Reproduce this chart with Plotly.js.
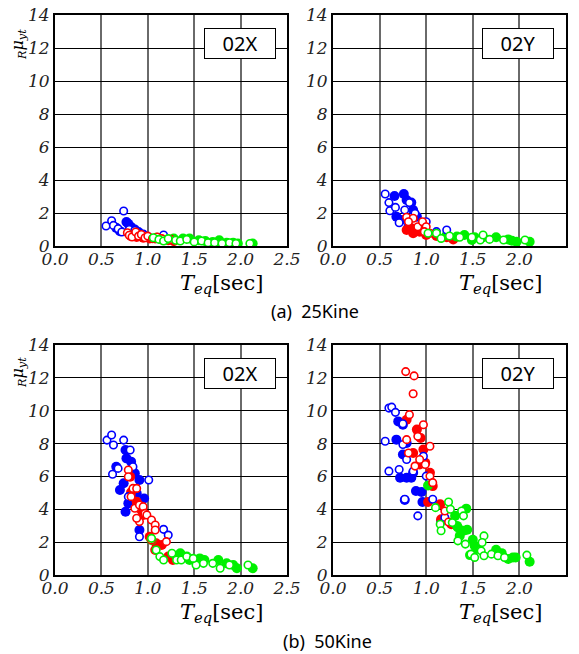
<!DOCTYPE html>
<html>
<head>
<meta charset="utf-8">
<script src="https://cdn.plot.ly/plotly-3.0.1.min.js"></script>
<style>html,body{margin:0;padding:0;background:#fff;}</style>
</head>
<body>
<div id="chart" style="width:579px;height:654px"></div>
<script>
const xTickVals = [0.0, 0.5, 1.0, 1.5, 2.0, 2.5];
const xTickText = ["0.0", "0.5", "1.0", "1.5", "2.0", "2.5"];
const yTickVals = [0, 2, 4, 6, 8, 10, 12, 14];
const yTickText = ["0", "2", "4", "6", "8", "10", "12", "14"];
const panelLabels = ["02X", "02Y", "02X", "02Y"];
const captions = ["(a)  25Kine", "(b)  50Kine"];

const aX_blueOpen_x = [0.55,0.61,0.63,0.68,0.74,0.72,0.80,0.86,0.95,1.17];
const aX_blueOpen_y = [1.21,1.53,1.25,1.05,2.12,0.85,1.00,0.95,0.70,0.67];
const aX_blueFill_x = [0.66,0.70,0.77,0.79,0.82,0.86,0.90,0.95,1.00];
const aX_blueFill_y = [1.10,0.90,1.45,1.35,1.15,1.00,0.85,0.70,0.55];
const aX_redOpen_x = [0.78,0.80,0.83,0.87,0.90,0.93,0.97,1.00,1.05,1.10,1.15,1.25];
const aX_redOpen_y = [0.80,0.65,0.55,0.85,0.60,0.70,0.50,0.60,0.45,0.55,0.45,0.40];
const aX_redFill_x = [0.82,0.88,0.95,1.02,1.08,1.15,1.22,1.28];
const aX_redFill_y = [0.60,0.55,0.50,0.45,0.45,0.40,0.35,0.30];
const aX_greenOpen_x = [1.06,1.12,1.17,1.22,1.30,1.35,1.42,1.50,1.58,1.65,1.72,1.80,1.88,1.95,2.10];
const aX_greenOpen_y = [0.50,0.40,0.30,0.45,0.35,0.30,0.40,0.25,0.30,0.20,0.20,0.15,0.20,0.15,0.15];
const aX_greenFill_x = [1.10,1.20,1.28,1.38,1.45,1.55,1.62,1.70,1.77,1.85,1.92,1.97,2.13];
const aX_greenFill_y = [0.50,0.40,0.45,0.45,0.45,0.35,0.30,0.25,0.35,0.20,0.20,0.15,0.15];

const aY_blueOpen_x = [0.56,0.60,0.61,0.67,0.71,0.77,0.82,0.88,1.00,1.22,1.11];
const aY_blueOpen_y = [3.15,2.63,2.14,2.34,1.41,2.18,2.63,1.98,1.47,0.97,0.87];
const aY_blueFill_x = [0.66,0.76,0.79,0.84,0.68,0.73,0.86,0.90,0.93,0.81];
const aY_blueFill_y = [3.03,3.15,2.79,2.63,1.78,1.58,2.18,1.78,0.97,1.17];
const aY_redOpen_x = [0.79,0.86,0.91,0.96,1.00,1.04,0.98,0.81];
const aY_redOpen_y = [1.74,1.68,1.17,1.47,1.17,0.77,0.87,1.47];
const aY_redFill_x = [0.79,0.86,0.93,1.00,1.11,1.22,1.29,0.84];
const aY_redFill_y = [0.97,0.77,0.87,0.67,0.61,0.53,0.40,1.07];
const aY_greenOpen_x = [1.02,1.11,1.16,1.25,1.36,1.49,1.58,1.68,1.83,2.06,1.61];
const aY_greenOpen_y = [0.77,0.77,0.46,0.61,0.53,0.53,0.36,0.40,0.36,0.36,0.67];
const aY_greenFill_x = [1.22,1.33,1.41,1.52,1.61,1.75,1.88,1.92,1.97,2.11,1.49];
const aY_greenFill_y = [0.67,0.57,0.67,0.53,0.53,0.53,0.40,0.32,0.26,0.26,0.36];

const bX_blueOpen_x = [0.56,0.61,0.63,0.74,0.62,0.68,0.81,0.84,1.01,1.17,1.22,0.91,0.79];
const bX_blueOpen_y = [8.21,8.52,7.91,8.21,6.13,6.49,7.61,6.59,5.78,2.78,2.43,2.33,4.77];
const bX_blueFill_x = [0.76,0.77,0.66,0.70,0.74,0.76,0.79,0.86,0.91,0.88,0.96,0.91,0.82,0.91];
const bX_blueFill_y = [7.61,7.10,6.59,5.17,5.58,3.85,4.36,6.19,5.78,4.97,4.66,2.74,6.90,4.16];
const bX_redOpen_x = [0.79,0.79,0.84,0.88,0.82,0.86,0.91,0.95,0.97,0.99,1.04,1.08,1.08,1.20,0.91,0.88,1.04];
const bX_redOpen_y = [6.39,5.98,5.27,5.27,4.77,4.06,4.26,4.16,3.75,3.65,3.35,3.04,2.74,2.03,3.25,3.45,2.13];
const bX_redFill_x = [0.81,0.88,0.93,0.95,1.02,1.09,1.08,1.15,1.22,1.27,0.82];
const bX_redFill_y = [5.98,4.46,3.96,3.65,2.33,1.93,1.52,1.83,1.12,0.91,5.03];
const bX_greenOpen_x = [1.04,1.09,1.13,1.17,1.26,1.31,1.36,1.42,1.52,1.60,1.70,1.78,1.88,2.08,1.49];
const bX_greenOpen_y = [2.23,1.52,1.12,0.91,1.32,0.91,0.91,1.12,0.61,0.71,0.71,0.41,0.61,0.61,1.01];
const bX_greenFill_x = [1.04,1.35,1.42,1.45,1.52,1.61,1.76,1.85,1.92,1.96,2.13,1.31,1.56];
const bX_greenFill_y = [2.13,1.32,1.12,0.91,0.81,0.91,0.91,0.71,0.61,0.41,0.41,1.12,1.01];

const bY_blueOpen_x = [0.60,0.63,0.67,0.56,0.60,0.71,0.75,0.79,0.91,0.86,1.07,1.00,0.97,0.77,1.20,0.75];
const bY_blueOpen_y = [10.16,10.22,9.90,8.14,6.32,6.42,7.94,7.03,3.60,6.32,4.61,6.02,7.23,4.61,3.50,9.21];
const bY_blueFill_x = [0.70,0.75,0.68,0.75,0.79,0.72,0.79,0.86,0.84,0.89,0.95,0.96,0.77,1.16];
const bY_blueFill_y = [9.35,9.15,8.24,7.33,8.04,5.92,5.92,6.22,5.92,5.11,5.05,4.44,4.57,3.29];
const bY_redOpen_x = [0.78,0.87,0.86,0.82,0.97,0.91,1.04,0.79,0.99,0.81,1.04,1.07,1.20,1.24,0.93,0.88];
const bY_redOpen_y = [12.38,12.12,11.03,9.76,9.15,8.44,7.84,8.24,6.73,7.43,6.02,5.62,3.90,3.23,7.03,6.63];
const bY_redFill_x = [0.79,0.90,0.94,0.86,0.97,0.99,1.04,1.07,1.02,1.15,1.16,1.27,0.93];
const bY_redFill_y = [9.45,8.85,8.34,7.43,7.64,6.83,6.22,5.41,4.44,4.30,3.39,3.09,6.73];
const bY_greenOpen_x = [1.10,1.24,1.26,1.38,1.15,1.16,1.28,1.34,1.40,1.42,1.62,1.60,1.59,1.62,1.48,1.52,1.70,1.77,1.84,2.08];
const bY_greenOpen_y = [4.10,4.44,4.00,3.90,3.09,2.69,3.19,2.08,3.60,1.88,2.38,1.98,1.47,1.17,1.27,1.07,1.27,1.17,1.07,1.21];
const bY_greenFill_x = [1.02,1.31,1.43,1.33,1.36,1.40,1.44,1.50,1.52,1.47,1.54,1.75,1.81,1.88,1.93,1.96,2.11,1.34];
const bY_greenFill_y = [5.45,3.60,4.04,2.99,2.38,2.69,2.75,2.14,1.78,1.21,1.58,1.54,1.33,0.97,1.07,1.07,0.81,2.89];

var BLUE = "#0000ff", RED = "#ff0000", GREEN = "#00f000";
var SERIF = "DejaVu Serif";
var SANS = "Noto Sans";

function mkFilled(x, y, color, xa, ya) {
  return {x: x, y: y, xaxis: xa, yaxis: ya, type: "scatter", mode: "markers", showlegend: false,
    hoverinfo: "skip", marker: {symbol: "circle", size: 10, color: color, line: {width: 0}}};
}
function mkHollow(x, y, color, xa, ya) {
  return {x: x, y: y, xaxis: xa, yaxis: ya, type: "scatter", mode: "markers", showlegend: false,
    hoverinfo: "skip", marker: {symbol: "circle", size: 7.5, color: "#ffffff", line: {width: 1.6, color: color}}};
}
function mkPanel(s, xa, ya) {
  return [
    mkFilled(s[2], s[3], BLUE, xa, ya), mkFilled(s[6], s[7], RED, xa, ya), mkFilled(s[10], s[11], GREEN, xa, ya),
    mkHollow(s[0], s[1], BLUE, xa, ya), mkHollow(s[4], s[5], RED, xa, ya), mkHollow(s[8], s[9], GREEN, xa, ya)
  ];
}

function buildTraces() {
  return [].concat(
    mkPanel([aX_blueOpen_x, aX_blueOpen_y, aX_blueFill_x, aX_blueFill_y, aX_redOpen_x, aX_redOpen_y, aX_redFill_x, aX_redFill_y, aX_greenOpen_x, aX_greenOpen_y, aX_greenFill_x, aX_greenFill_y], "x", "y"),
    mkPanel([aY_blueOpen_x, aY_blueOpen_y, aY_blueFill_x, aY_blueFill_y, aY_redOpen_x, aY_redOpen_y, aY_redFill_x, aY_redFill_y, aY_greenOpen_x, aY_greenOpen_y, aY_greenFill_x, aY_greenFill_y], "x2", "y2"),
    mkPanel([bX_blueOpen_x, bX_blueOpen_y, bX_blueFill_x, bX_blueFill_y, bX_redOpen_x, bX_redOpen_y, bX_redFill_x, bX_redFill_y, bX_greenOpen_x, bX_greenOpen_y, bX_greenFill_x, bX_greenFill_y], "x3", "y3"),
    mkPanel([bY_blueOpen_x, bY_blueOpen_y, bY_blueFill_x, bY_blueFill_y, bY_redOpen_x, bY_redOpen_y, bY_redFill_x, bY_redFill_y, bY_greenOpen_x, bY_greenOpen_y, bY_greenFill_x, bY_greenFill_y], "x4", "y4")
  );
}

var W = 579, H = 654;

function mkX(domain, anchor) {
  return {domain: domain, anchor: anchor, range: [0, 2.5], tickmode: "array", tickvals: xTickVals, ticktext: xTickText,
    showgrid: true, gridcolor: "#6a6a6a", gridwidth: 1.5, zeroline: false,
    showline: true, linecolor: "#000", linewidth: 2, mirror: true, ticks: "", ticklabelstandoff: -3,
    tickfont: {family: SERIF, size: 17, style: "italic", color: "#222"}};
}
function mkY(domain, anchor) {
  return {domain: domain, anchor: anchor, range: [0, 14], tickmode: "array", tickvals: yTickVals, ticktext: yTickText,
    showgrid: true, gridcolor: "#000", gridwidth: 1, zeroline: false,
    showline: true, linecolor: "#000", linewidth: 2, mirror: true, ticks: "",
    tickfont: {family: SERIF, size: 17, style: "italic", color: "#222"}};
}

var xL = [55 / W, 287 / W], xR = [333 / W, 566 / W];
var yT = [1 - 246 / H, 1 - 15 / H], yB = [1 - 575 / H, 1 - 345 / H];

function pxx(x) { return x / W; }
function pyy(y) { return 1 - y / H; }

function buildLayout() {
  var anns = [];
  [[240, 43.5], [518, 43.5], [240, 373.5], [518, 373.5]].forEach(function (c, i) {
    anns.push({xref: "paper", yref: "paper", x: pxx(c[0]), y: pyy(c[1]), xanchor: "center", yanchor: "middle",
      text: panelLabels[i], showarrow: false, bgcolor: "#fff", bordercolor: "#000", borderwidth: 1,
      width: 70, height: 29, borderpad: 0, font: {family: SANS, size: 20, color: "#000"}});
  });
  [[222, 284], [500, 284], [222, 613], [500, 613]].forEach(function (c) {
    anns.push({xref: "paper", yref: "paper", x: pxx(c[0]), y: pyy(c[1]), xanchor: "center", yanchor: "middle",
      text: "<i>T</i><sub><i>eq</i></sub>[sec]", showarrow: false, font: {family: SERIF, size: 21, color: "#000"}});
  });
  [[18, 45], [18, 373]].forEach(function (c) {
    anns.push({xref: "paper", yref: "paper", x: pxx(c[0]), y: pyy(c[1]), xanchor: "center", yanchor: "middle",
      text: "<sub><i>R</i></sub><i>μ</i><sub><i>yt</i></sub>", textangle: -90, showarrow: false,
      font: {family: SERIF, size: 16, color: "#000"}});
  });
  anns.push({xref: "paper", yref: "paper", x: pxx(315), y: pyy(311), xanchor: "center", yanchor: "middle",
    text: captions[0], showarrow: false, font: {family: SANS, size: 18, color: "#000"}});
  anns.push({xref: "paper", yref: "paper", x: pxx(327), y: pyy(641), xanchor: "center", yanchor: "middle",
    text: captions[1], showarrow: false, font: {family: SANS, size: 18, color: "#000"}});

  return {
    width: W, height: H, margin: {l: 0, r: 0, t: 0, b: 0},
    paper_bgcolor: "#fff", plot_bgcolor: "#fff", showlegend: false,
    xaxis: mkX(xL, "y"), yaxis: mkY(yT, "x"),
    xaxis2: mkX(xR, "y2"), yaxis2: mkY(yT, "x2"),
    xaxis3: mkX(xL, "y3"), yaxis3: mkY(yB, "x3"),
    xaxis4: mkX(xR, "y4"), yaxis4: mkY(yB, "x4"),
    annotations: anns
  };
}

Plotly.newPlot("chart", buildTraces(), buildLayout(), {displayModeBar: false});
</script>
</body>
</html>
